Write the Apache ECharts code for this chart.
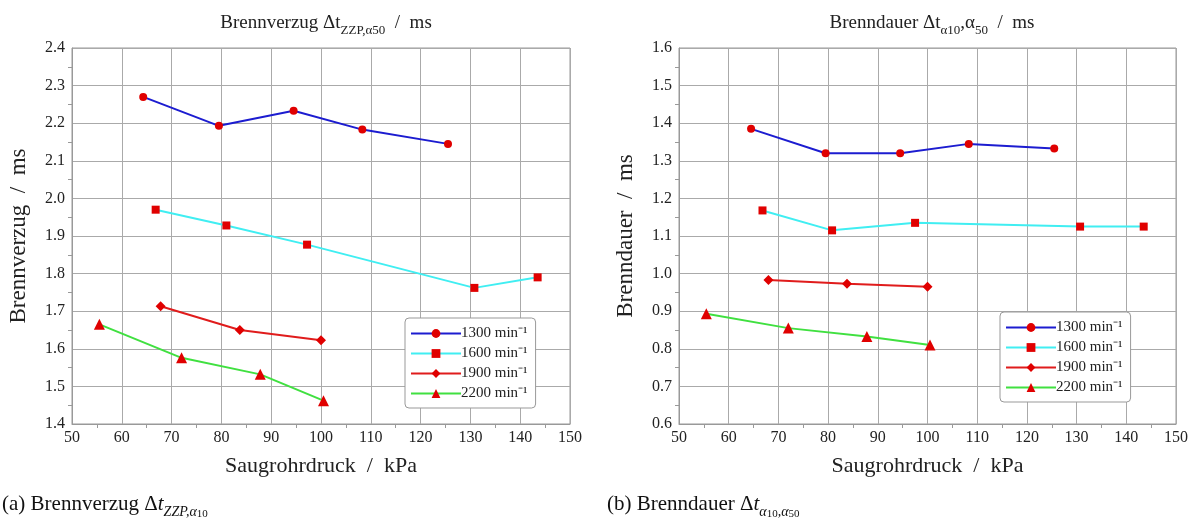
<!DOCTYPE html>
<html>
<head>
<meta charset="utf-8">
<script src="https://cdn.jsdelivr.net/npm/echarts@6/dist/echarts.min.js"></script>
<style>html,body{margin:0;padding:0;background:#fff}#c{width:1195px;height:522px}</style>
</head>
<body>
<div id="c"></div>
<script>
const seriesNames = ['1300 min⁻¹', '1600 min⁻¹', '1900 min⁻¹', '2200 min⁻¹'];
const xTicks = [50, 60, 70, 80, 90, 100, 110, 120, 130, 140, 150];

// (a) Brennverzug
const a1300 = [[64.3, 2.27], [79.5, 2.193], [94.5, 2.233], [108.3, 2.183], [125.5, 2.145]];
const a1600 = [[66.8, 1.97], [81.0, 1.928], [97.2, 1.877], [130.8, 1.762], [143.5, 1.79]];
const a1900 = [[67.8, 1.713], [83.7, 1.65], [100.0, 1.623]];
const a2200 = [[55.5, 1.665], [72.0, 1.576], [87.8, 1.532], [100.5, 1.462]];

// (b) Brenndauer
const b1300 = [[64.5, 1.385], [79.5, 1.32], [94.5, 1.32], [108.3, 1.345], [125.5, 1.333]];
const b1600 = [[66.8, 1.168], [80.8, 1.115], [97.5, 1.135], [130.7, 1.125], [143.5, 1.125]];
const b1900 = [[68.0, 0.983], [83.8, 0.973], [100.0, 0.965]];
const b2200 = [[55.5, 0.893], [72.0, 0.855], [87.8, 0.833], [100.5, 0.81]];

const lineColors = ['#1c1cd0', '#40eef2', '#e01c1c', '#40e040'];
const symbols = ['circle', 'rect', 'diamond', 'triangle'];
const symSizes = [8, 8, 10, 11];
const markerColor = '#e00000';
const FONT = 'Liberation Serif';

const chart = echarts.init(document.getElementById('c'));

function xAxis(gi) {
  return {
    type: 'value', gridIndex: gi, min: 50, max: 150, interval: 10,
    name: 'Saugrohrdruck  /  kPa', nameLocation: 'middle', nameGap: 31,
    nameTextStyle: { fontFamily: FONT, fontSize: 22, color: '#222' },
    axisLine: { show: true, lineStyle: { color: '#999' } },
    axisTick: { show: false },
    minorTick: { show: true, splitNumber: 2, length: 4, lineStyle: { color: '#999' } },
    axisLabel: { fontFamily: FONT, fontSize: 16, color: '#222', margin: 6 },
    splitLine: { show: true, lineStyle: { color: '#aaa', width: 1 } }
  };
}
function yAxis(gi, min, max, name) {
  return {
    type: 'value', gridIndex: gi, min: min, max: max, interval: 0.1,
    name: name, nameLocation: 'middle', nameGap: 42,
    nameTextStyle: { fontFamily: FONT, fontSize: 23, color: '#222' },
    axisLine: { show: true, lineStyle: { color: '#999' } },
    axisTick: { show: false },
    minorTick: { show: true, splitNumber: 2, length: 4, lineStyle: { color: '#999' } },
    axisLabel: { fontFamily: FONT, fontSize: 16, color: '#222', margin: 7, formatter: v => v.toFixed(1) },
    splitLine: { show: true, lineStyle: { color: '#aaa', width: 1 } }
  };
}
function mk(data, i, gi) {
  return {
    type: 'line', name: seriesNames[i], data: data, xAxisIndex: gi, yAxisIndex: gi,
    symbol: symbols[i], symbolSize: symSizes[i], showAllSymbol: true,
    lineStyle: { color: lineColors[i], width: 2 },
    itemStyle: { color: markerColor },
    color: lineColors[i], z: 3
  };
}
function legend(left, top) {
  return {
    left: left, top: top, orient: 'vertical', data: seriesNames,
    itemWidth: 50, itemHeight: 11, itemGap: 5,
    backgroundColor: '#fff', borderColor: '#999', borderWidth: 1, borderRadius: 4,
    padding: [8, 8, 7, 5],
    textStyle: { fontFamily: FONT, fontSize: 15, color: '#222', padding: [0, 0, 0, -5] },
    selectedMode: false
  };
}
const titleRich = {
  m: { fontFamily: FONT, fontSize: 19, fontWeight: 'normal', color: '#222', lineHeight: 28, verticalAlign: 'middle' },
  s: { fontFamily: FONT, fontSize: 13, fontWeight: 'normal', color: '#222', lineHeight: 14, verticalAlign: 'bottom' },
  ss: { fontFamily: FONT, fontSize: 13, fontWeight: 'normal', color: '#222', lineHeight: 4, verticalAlign: 'bottom' }
};

chart.setOption({
  animation: false,
  backgroundColor: '#fff',
  title: [
    { text: '{m|Brennverzug Δt}{s|ZZP,α}{ss|50}{m|  /  ms}', left: 321, top: 4, textAlign: 'center',
      textStyle: { fontWeight: 'normal', rich: titleRich } },
    { text: '{m|Brenndauer Δt}{s|α}{ss|10}{m|,α}{ss|50}{m|  /  ms}', left: 927, top: 4, textAlign: 'center',
      textStyle: { fontWeight: 'normal', rich: titleRich } }
  ],
  grid: [
    { left: 72, width: 498, top: 48, height: 376, show: true, borderColor: '#999', borderWidth: 1 },
    { left: 679, width: 497, top: 48, height: 376, show: true, borderColor: '#999', borderWidth: 1 }
  ],
  xAxis: [xAxis(0), xAxis(1)],
  yAxis: [yAxis(0, 1.4, 2.4, 'Brennverzug  /  ms'), yAxis(1, 0.6, 1.6, 'Brenndauer  /  ms')],
  legend: [legend(405, 318), legend(1000, 312)],
  series: [
    mk(a1300, 0, 0), mk(a1600, 1, 0), mk(a1900, 2, 0), mk(a2200, 3, 0),
    mk(b1300, 0, 1), mk(b1600, 1, 1), mk(b1900, 2, 1), mk(b2200, 3, 1)
  ],
  graphic: [
    { type: 'text', left: 2, top: 494, style: {
      text: '{m|(a) Brennverzug Δ}{i|t}{s|ZZP,α}{ss|10}',
      rich: {
        m: { fontFamily: FONT, fontSize: 21, fill: '#111', lineHeight: 30, verticalAlign: 'middle' },
        i: { fontFamily: FONT, fontStyle: 'italic', fontSize: 21, fill: '#111', lineHeight: 30, verticalAlign: 'middle' },
        s: { fontFamily: FONT, fontStyle: 'italic', fontSize: 14, fill: '#111', lineHeight: 16, verticalAlign: 'bottom' },
        ss: { fontFamily: FONT, fontSize: 11, fill: '#111', lineHeight: 8, verticalAlign: 'bottom' }
      } } },
    { type: 'text', left: 607, top: 494, style: {
      text: '{m|(b) Brenndauer Δ}{i|t}{s|α}{ss|10}{s|,α}{ss|50}',
      rich: {
        m: { fontFamily: FONT, fontSize: 21, fill: '#111', lineHeight: 30, verticalAlign: 'middle' },
        i: { fontFamily: FONT, fontStyle: 'italic', fontSize: 21, fill: '#111', lineHeight: 30, verticalAlign: 'middle' },
        s: { fontFamily: FONT, fontStyle: 'italic', fontSize: 14, fill: '#111', lineHeight: 16, verticalAlign: 'bottom' },
        ss: { fontFamily: FONT, fontSize: 11, fill: '#111', lineHeight: 8, verticalAlign: 'bottom' }
      } } }
  ]
});
</script>
</body>
</html>
